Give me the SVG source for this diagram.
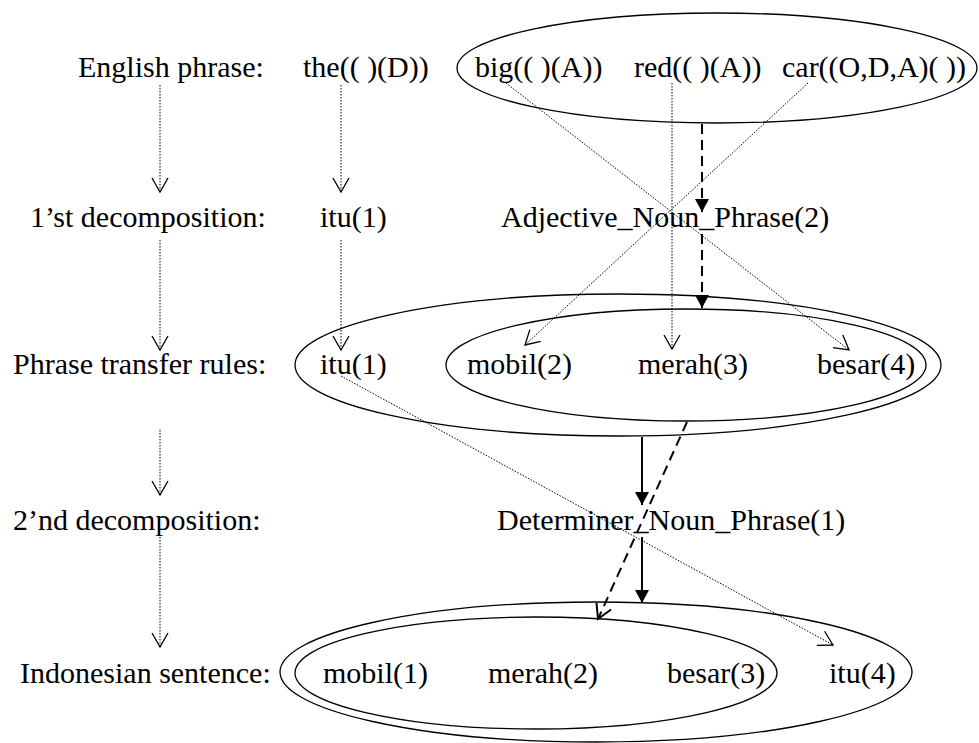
<svg xmlns="http://www.w3.org/2000/svg" width="979" height="743" viewBox="0 0 979 743">
  <style>
    text { font-family: "Liberation Serif", "Times New Roman", serif; font-size: 30px; fill: #000; }
    .ring { fill: none; stroke: #000; stroke-width: 1.3; }
    .dot { fill: none; stroke: #000; stroke-width: 1; stroke-dasharray: 1.5 1.5; marker-end: url(#open); }
    .dash { fill: none; stroke: #000; stroke-width: 2; stroke-dasharray: 10 6; }
    .solid { fill: none; stroke: #000; stroke-width: 2; marker-end: url(#filled); }
  </style>
  <defs>
    <marker id="open" markerUnits="userSpaceOnUse" viewBox="0 0 16 18" markerWidth="16" markerHeight="18" refX="15" refY="9" orient="auto">
      <path d="M1,1 L15,9 L1,17" fill="none" stroke="#000" stroke-width="1.3"/>
    </marker>
    <marker id="openBold" markerUnits="userSpaceOnUse" viewBox="0 0 18 20" markerWidth="18" markerHeight="20" refX="16" refY="10" orient="auto">
      <path d="M2,2 L16,10 L2,18" fill="none" stroke="#000" stroke-width="2"/>
    </marker>
    <marker id="filled" markerUnits="userSpaceOnUse" viewBox="0 0 14 14" markerWidth="14" markerHeight="14" refX="13" refY="7" orient="auto">
      <path d="M0,0 L13,7 L0,14 z" fill="#000"/>
    </marker>
  </defs>

  <!-- stage labels -->
  <g id="labels">
    <text x="78" y="77">English phrase:</text>
    <text x="30" y="227">1’st decomposition:</text>
    <text x="13" y="374">Phrase transfer rules:</text>
    <text x="13" y="530">2’nd decomposition:</text>
    <text x="20" y="683">Indonesian sentence:</text>
  </g>

  <!-- English phrase -->
  <g id="english-phrase">
    <ellipse class="ring" cx="717" cy="68" rx="260" ry="55"/>
    <text x="303" y="77">the(( )(D))</text>
    <text x="475" y="77">big(( )(A))</text>
    <text x="634" y="77">red(( )(A))</text>
    <text x="782" y="77">car((O,D,A)( ))</text>
  </g>

  <!-- first decomposition -->
  <g id="decomposition-1">
    <text x="320" y="227">itu(1)</text>
    <text x="501" y="227">Adjective_Noun_Phrase(2)</text>
  </g>

  <!-- phrase transfer rules -->
  <g id="transfer-rules">
    <ellipse class="ring" cx="618" cy="365" rx="323" ry="71"/>
    <ellipse class="ring" cx="686" cy="365" rx="240" ry="56"/>
    <text x="320" y="374">itu(1)</text>
    <text x="467" y="374">mobil(2)</text>
    <text x="638" y="374">merah(3)</text>
    <text x="817" y="374">besar(4)</text>
  </g>

  <!-- second decomposition -->
  <g id="decomposition-2">
    <text x="497" y="530">Determiner_Noun_Phrase(1)</text>
  </g>

  <!-- Indonesian sentence -->
  <g id="indonesian-sentence">
    <ellipse class="ring" cx="596" cy="672" rx="316" ry="70"/>
    <ellipse class="ring" cx="536" cy="673" rx="241" ry="56"/>
    <text x="323" y="683">mobil(1)</text>
    <text x="488" y="683">merah(2)</text>
    <text x="667" y="683">besar(3)</text>
    <text x="829" y="683">itu(4)</text>
  </g>

  <g id="connectors">
    <!-- stage flow -->
    <line class="dot" x1="160" y1="85" x2="160" y2="192"/>
    <line class="dot" x1="160" y1="240" x2="160" y2="350"/>
    <line class="dot" x1="160" y1="430" x2="160" y2="495"/>
    <line class="dot" x1="160" y1="537" x2="160" y2="647"/>
    <!-- word mappings -->
    <line class="dot" x1="341" y1="85" x2="341" y2="192"/>
    <line class="dot" x1="341" y1="240" x2="341" y2="350"/>
    <line class="dot" x1="506" y1="83" x2="849" y2="350"/>
    <line class="dot" x1="672" y1="83" x2="672" y2="349"/>
    <line class="dot" x1="808" y1="83" x2="525" y2="345"/>
    <line class="dot" x1="341" y1="376" x2="833" y2="645"/>
    <!-- phrase structure -->
    <line class="dash" x1="702" y1="124" x2="702" y2="212" marker-end="url(#filled)"/>
    <line class="dash" x1="702" y1="234" x2="702" y2="308" marker-end="url(#filled)"/>
    <line class="dash" x1="687" y1="422" x2="598" y2="619" marker-end="url(#openBold)"/>
    <line class="solid" x1="642" y1="437" x2="642" y2="505"/>
    <line class="solid" x1="642" y1="537" x2="642" y2="603"/>
  </g>
</svg>
